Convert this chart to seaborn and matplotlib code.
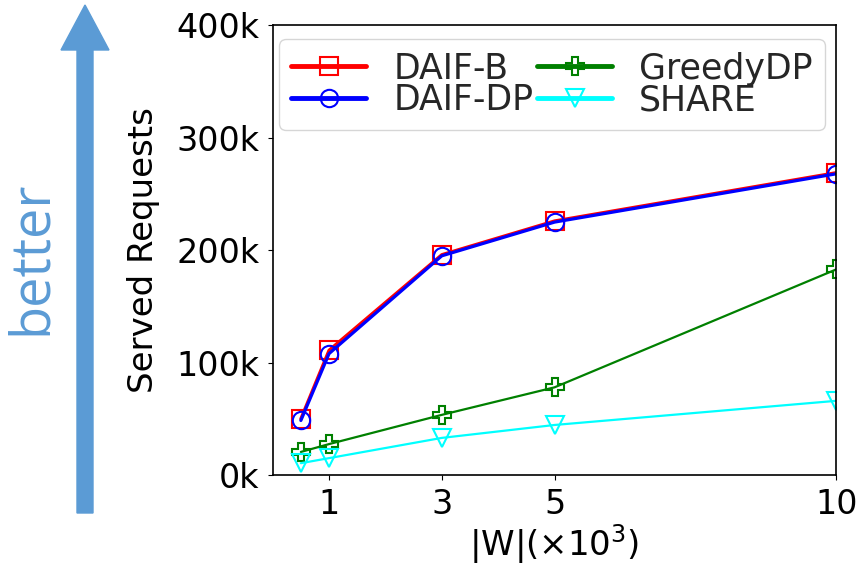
import pandas as pd
import matplotlib
matplotlib.use("Agg")
import matplotlib.pyplot as plt
from matplotlib.patches import FancyArrow
import seaborn as sns

# |W| in thousands
workers = [0.5, 1, 3, 5, 10]
daif_b = [50000, 111000, 196000, 226000, 269000]
daif_dp = [48500, 108000, 195000, 225000, 268000]
greedy_dp = [20500, 27500, 53500, 78000, 183000]
share = [10500, 15000, 33000, 44500, 66000]

x_ticks = [1, 3, 5, 10]
y_ticks = [0, 100000, 200000, 300000, 400000]
y_tick_labels = ["0k", "100k", "200k", "300k", "400k"]

sns.set_style("ticks")
plt.rcParams['font.family'] = ['DejaVu Sans']
plt.rcParams['mathtext.default'] = 'regular'

df = pd.DataFrame({
    'W': workers * 4,
    'Served': daif_b + daif_dp + greedy_dp + share,
    'Method': ['DAIF-B'] * 5 + ['DAIF-DP'] * 5 + ['GreedyDP'] * 5 + ['SHARE'] * 5,
})

styles = {
    'DAIF-B': ('red', 's', 2.3),
    'DAIF-DP': ('blue', 'o', 2.3),
    'GreedyDP': ('green', 'P', 1.6),
    'SHARE': ('cyan', 'v', 1.6),
}

fig = plt.figure(figsize=(8.61, 5.66), dpi=100)
ax = fig.add_axes([0.3167, 0.1608, 0.6548, 0.7943])

for name, (color, marker, lw) in styles.items():
    sub = df[df['Method'] == name]
    sns.lineplot(data=sub, x='W', y='Served', ax=ax, color=color, marker=marker,
                 markersize=12.5, markerfacecolor='none', markeredgecolor=color,
                 markeredgewidth=1.5, linewidth=lw, label=name)

ax.set_xlim(0, 10)
ax.set_ylim(0, 400000)
ax.set_xticks(x_ticks)
ax.set_xticklabels([str(t) for t in x_ticks])
ax.set_yticks(y_ticks)
ax.set_yticklabels(y_tick_labels)
ax.tick_params(labelsize=24, pad=6, color='black', labelcolor='black')
for sp in ax.spines.values():
    sp.set_color('black')
    sp.set_linewidth(1.2)

ax.set_xlabel("|W|(×10$^3$)", fontsize=24.5, color='black', labelpad=1)
ax.set_ylabel("Served Requests", fontsize=24.5, color='black', labelpad=12)

leg = ax.legend(loc='upper left', bbox_to_anchor=(0.0117, 0.969), borderaxespad=0,
                ncol=2, fontsize=25, handlelength=2.15, handletextpad=0.78,
                columnspacing=0.12, labelspacing=-0.06, borderpad=0.35,
                frameon=True, edgecolor='0.8', fancybox=True)
for line in leg.get_lines():
    line.set_linewidth(3.5)

# "better" arrow on the left
arrow_color = '#5B9BD5'
fig.add_artist(FancyArrow(0.85, 0.53, 0, 5.08, width=0.16, head_width=0.48,
                          head_length=0.45, length_includes_head=True,
                          color=arrow_color, transform=fig.dpi_scale_trans))
fig.text(46 / 861, 1 - 257.5 / 566, "better", rotation=90, rotation_mode='anchor',
         ha='center', va='baseline', fontsize=39, color=arrow_color,
         family=['Open Sans', 'DejaVu Sans'])

fig.savefig("out.png", dpi=100)
